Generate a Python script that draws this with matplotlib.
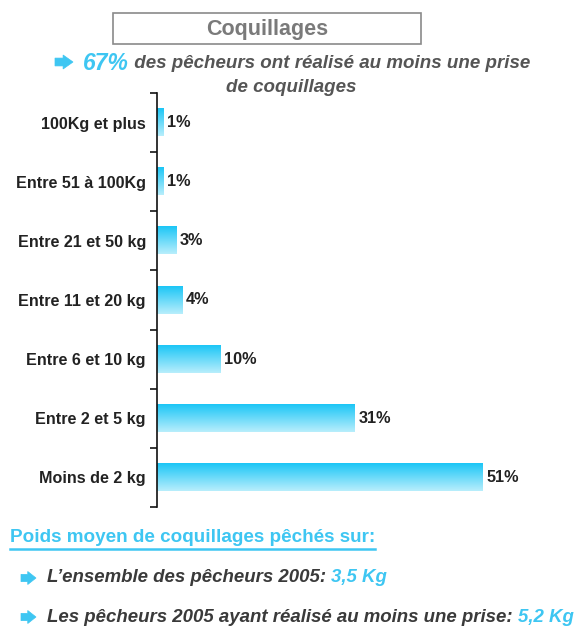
import matplotlib
matplotlib.use("Agg")
import matplotlib.pyplot as plt
import numpy as np
from matplotlib.patches import Rectangle, Polygon
from matplotlib.colors import to_rgb

categories = ["100Kg et plus", "Entre 51 à 100Kg", "Entre 21 et 50 kg", "Entre 11 et 20 kg",
              "Entre 6 et 10 kg", "Entre 2 et 5 kg", "Moins de 2 kg"]
values = [1, 1, 3, 4, 10, 31, 51]
value_labels = ["1%", "1%", "3%", "4%", "10%", "31%", "51%"]

title = "Coquillages"
headline_pct = "67%"
headline_l1 = " des pêcheurs ont réalisé au moins une prise"
headline_l2 = "de coquillages"
footer_title = "Poids moyen de coquillages pêchés sur:"
footer_items = [("L’ensemble des pêcheurs 2005: ", "3,5 Kg"),
                ("Les pêcheurs 2005 ayant réalisé au moins une prise: ", "5,2 Kg")]

plt.rcParams['font.family'] = ['Liberation Sans', 'DejaVu Sans']

W, H = 580, 628
fig = plt.figure(figsize=(W/100, H/100), dpi=100)
CYAN = "#3ec6f2"
DARK = "#3a3a3a"

def fx(x): return x / W
def fy(y): return 1 - y / H

ax = fig.add_axes([fx(157), fy(507), fx(540) - fx(157), fy(93) - fy(507)])
top_c = np.array(to_rgb("#1cc6f6"))
bot_c = np.array(to_rgb("#b8eefc"))
N = 64
t = np.linspace(0, 1, N)[:, None, None]
grad = bot_c[None, None, :] * (1 - t) + top_c[None, None, :] * t
h = 0.46
for i, v in enumerate(values):
    ax.imshow(grad, extent=(0, v, i + h/2, i - h/2), origin='lower', aspect='auto',
              interpolation='bilinear', zorder=2)
    ax.text(v + 0.55, i, value_labels[i], va='center', ha='left', fontsize=11.7,
            fontweight='bold', color="#222222")

ax.set_xlim(0, 60)
ax.set_ylim(len(values) - 0.5, -0.5)
ax.set_yticks(range(len(categories)))
ax.set_yticklabels(categories, fontsize=11.6, fontweight='bold', color="#222222")
ax.tick_params(axis='y', which='major', length=0, pad=8)
ax.set_yticks(np.arange(-0.5, len(values)), minor=True)
ax.tick_params(axis='y', which='minor', length=5, width=1.1, direction='out')
ax.set_xticks([])
for s in ['top', 'right', 'bottom']:
    ax.spines[s].set_visible(False)
ax.spines['left'].set_linewidth(1.2)
ax.spines['left'].set_color('#111111')

# Title box
fig.patches.append(Rectangle((fx(113), fy(44)), fx(421) - fx(113), fy(13) - fy(44),
                             transform=fig.transFigure, fill=False, edgecolor="#8a8a8a",
                             linewidth=1.2))
fig.text(fx(267), fy(29), title, ha='center', va='center', fontsize=15.5,
         fontweight='bold', color="#7a7a7a")

fig.canvas.draw()
renderer = fig.canvas.get_renderer()

def block_arrow(x0, yc, w, hh):
    bh = hh * 0.56
    bl = w * 0.45
    pts = [(x0, yc - bh/2), (x0 + bl, yc - bh/2), (x0 + bl, yc - hh/2), (x0 + w, yc),
           (x0 + bl, yc + hh/2), (x0 + bl, yc + bh/2), (x0, yc + bh/2)]
    fig.patches.append(Polygon([(fx(a), fy(b)) for a, b in pts], closed=True,
                               transform=fig.transFigure, facecolor=CYAN,
                               edgecolor=CYAN, linewidth=0.5))

def seq_text(x_px, y_px, parts):
    x = x_px
    for txt, kw in parts:
        tt = fig.text(fx(x), fy(y_px), txt, ha='left', va='center', **kw)
        bb = tt.get_window_extent(renderer=renderer)
        x += bb.width
    return x

l1_parts = [(headline_pct, dict(color=CYAN, fontsize=16.5, fontweight='bold', style='italic')),
            (headline_l1, dict(color="#555555", fontsize=13.5, fontweight='bold', style='italic'))]
block_arrow(55, 62, 18, 14)
seq_text(83, 63, l1_parts)
fig.text(fx(291), fy(87), headline_l2, ha='center', va='center', color="#555555",
         fontsize=13.5, fontweight='bold', style='italic')

# Footer
ft = fig.text(fx(10), fy(538), footer_title, ha='left', va='center', color=CYAN,
              fontsize=13.6, fontweight='bold')
bb = ft.get_window_extent(renderer=renderer)
fig.add_artist(plt.Line2D([fx(10), fx(10 + bb.width)], [fy(548.5), fy(548.5)],
                          transform=fig.transFigure, color=CYAN, linewidth=1.8))

ys = [578, 617]
for (lbl, val), y in zip(footer_items, ys):
    block_arrow(21, y, 15, 13)
    seq_text(47, y, [(lbl, dict(color=DARK, fontsize=13.4, fontweight='bold', style='italic')),
                     (val, dict(color=CYAN, fontsize=13.4, fontweight='bold', style='italic'))])

fig.savefig("out.png", dpi=100)
